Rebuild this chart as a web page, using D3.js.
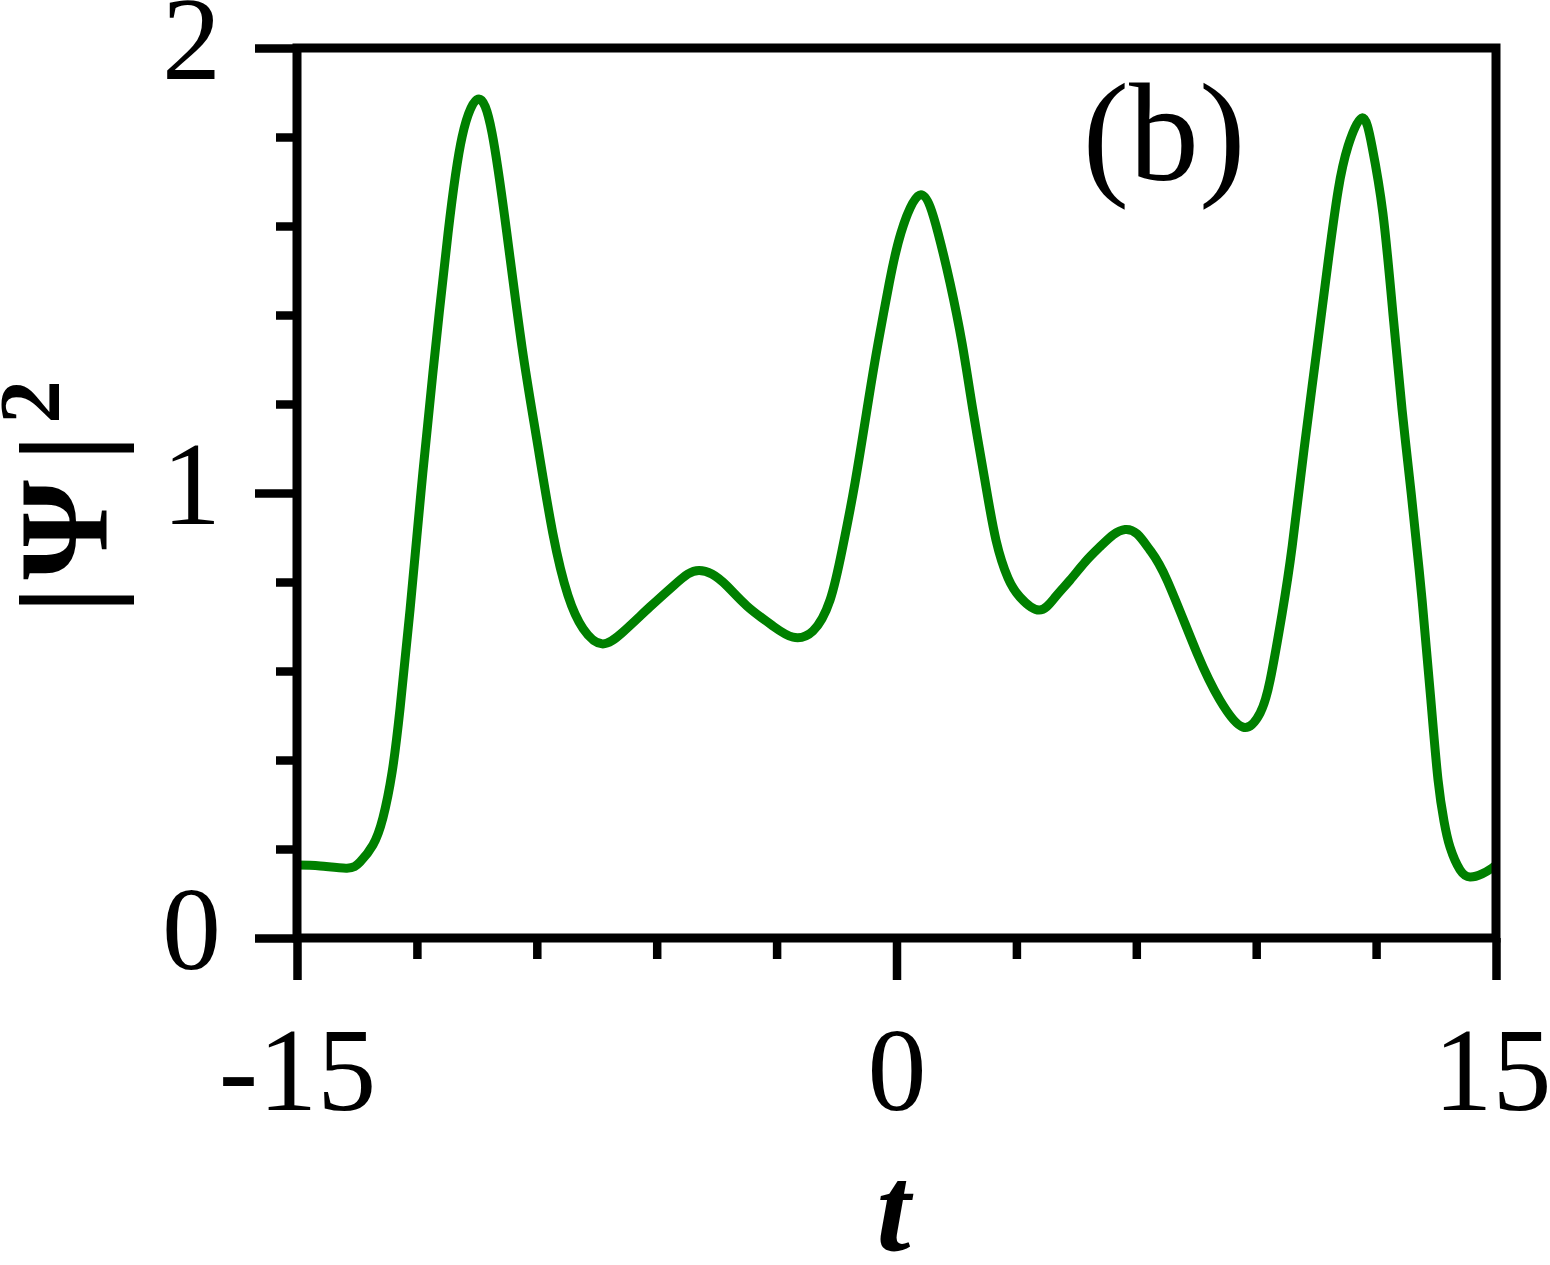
<!DOCTYPE html>
<html>
<head>
<meta charset="utf-8">
<script src="https://cdn.jsdelivr.net/npm/d3@7"></script>
<style>
  html, body { margin: 0; padding: 0; background: #fff; }
  svg { display: block; }
</style>
</head>
<body>
<div id="chart"></div>
<script>
// ---- data ----
const tValues = [
  -15.00, -14.42, -13.75, -13.42, -13.10, -12.85, -12.62, -12.42, -12.17, -11.90,
  -11.60, -11.22, -10.87, -10.47, -10.12, -9.75, -9.37, -9.00, -8.60, -8.22,
  -7.84, -7.37, -6.84, -6.17, -5.59, -5.22, -4.94, -4.62, -4.24, -3.74,
  -3.09, -2.59, -2.09, -1.66, -1.36, -1.04, -0.70, -0.46, -0.18, 0.11,
  0.61, 1.04, 1.34, 1.64, 1.91, 2.21, 2.49, 2.79, 3.09, 3.57,
  3.97, 4.34, 4.72, 5.09, 5.42, 5.72, 6.02, 6.34, 6.77, 7.52,
  8.09, 8.67, 9.10, 9.35, 9.65, 9.90, 10.20, 10.50, 10.80, 11.05,
  11.30, 11.65, 11.90, 12.17, 12.42, 12.65, 12.88, 13.15, 13.37, 13.55,
  13.70, 13.85, 14.10, 14.35, 14.65, 14.90, 15.00
];
const psiValues = [
  0.164, 0.162, 0.157, 0.171, 0.209, 0.270, 0.373, 0.517, 0.739, 1.000,
  1.270, 1.584, 1.800, 1.885, 1.809, 1.584, 1.328, 1.120, 0.910, 0.770,
  0.695, 0.661, 0.688, 0.744, 0.791, 0.818, 0.826, 0.818, 0.791, 0.746,
  0.701, 0.676, 0.690, 0.760, 0.872, 1.022, 1.209, 1.337, 1.472, 1.584,
  1.670, 1.584, 1.472, 1.337, 1.187, 1.029, 0.894, 0.809, 0.766, 0.737,
  0.766, 0.804, 0.845, 0.879, 0.906, 0.918, 0.908, 0.872, 0.804, 0.640,
  0.535, 0.474, 0.506, 0.580, 0.730, 0.880, 1.100, 1.310, 1.520, 1.680,
  1.780, 1.843, 1.778, 1.629, 1.404, 1.187, 0.998, 0.760, 0.535, 0.355,
  0.262, 0.204, 0.153, 0.137, 0.144, 0.157, 0.164
];
const xMajorTicks = [-15, 0, 15];
const xMinorTicks = [-12, -9, -6, -3, 3, 6, 9, 12];
const yMajorTicks = [0, 1, 2];
const yMinorTicks = [0.2, 0.4, 0.6, 0.8, 1.2, 1.4, 1.6, 1.8];
const xTickLabels = ["-15", "0", "15"];
const yTickLabels = ["0", "1", "2"];
const xLabel = "t";
const panelLabel = "(b)";

// ---- layout ----
const W = 1550, H = 1265;
const mLeft = 297, mRight = 1496, mTop = 48, mBottom = 938;
const serif = "'Liberation Serif', 'Times New Roman', serif";

const svg = d3.select("#chart").append("svg")
  .attr("width", W).attr("height", H);

const x = d3.scaleLinear().domain([-15, 15]).range([mLeft, mRight]);
const y = d3.scaleLinear().domain([0, 2]).range([mBottom, mTop]);

// curve
const pts = tValues.map((t, i) => [t, psiValues[i]]);
const line = d3.line().x(d => x(d[0])).y(d => y(d[1])).curve(d3.curveNatural);
svg.append("path").datum(pts)
  .attr("d", line)
  .attr("fill", "none")
  .attr("stroke", "#008000")
  .attr("stroke-width", 9)
  .attr("stroke-linejoin", "round");

// axes
function styleAxis(g) {
  g.select(".domain").remove();
  g.selectAll(".tick line").attr("stroke", "#000").attr("stroke-width", 8.5);
  g.selectAll("text").attr("font-family", serif).attr("font-size", 118).attr("fill", "#000");
}

svg.append("g").attr("transform", `translate(${mLeft},0)`)
  .call(d3.axisLeft(y).tickValues(yMinorTicks).tickSize(21).tickFormat(""))
  .call(styleAxis);
svg.append("g").attr("transform", `translate(${mLeft},0)`)
  .call(d3.axisLeft(y).tickValues(yMajorTicks).tickSize(42)
    .tickFormat((d, i) => yTickLabels[i]))
  .call(styleAxis)
  .call(g => g.selectAll("text").attr("dy", "0.26em").attr("x", -76));

svg.append("g").attr("transform", `translate(0,${mBottom})`)
  .call(d3.axisBottom(x).tickValues(xMinorTicks).tickSize(21).tickFormat(""))
  .call(styleAxis);
svg.append("g").attr("transform", `translate(0,${mBottom})`)
  .call(d3.axisBottom(x).tickValues(xMajorTicks).tickSize(42)
    .tickFormat((d, i) => xTickLabels[i]))
  .call(styleAxis)
  .call(g => g.selectAll("text").attr("y", 172).attr("dy", 0)
    .attr("dx", (d, i) => i === xMajorTicks.length - 1 ? -4 : 0));

// frame
svg.append("rect")
  .attr("x", mLeft).attr("y", mTop)
  .attr("width", mRight - mLeft).attr("height", mBottom - mTop)
  .attr("fill", "none").attr("stroke", "#000").attr("stroke-width", 9);

// x label
svg.append("text")
  .attr("x", (mLeft + mRight) / 2 - 3).attr("y", 1250)
  .attr("text-anchor", "middle")
  .attr("font-family", serif).attr("font-size", 122)
  .attr("font-weight", "bold").attr("font-style", "italic")
  .text(xLabel);

// y label |Ψ|^2 rotated
const yl = svg.append("text")
  .attr("transform", "translate(107,614) rotate(-90)")
  .attr("font-family", serif).attr("font-weight", "bold")
  .attr("font-size", 128).attr("fill", "#000");
yl.append("tspan").text("|");
yl.append("tspan").attr("dx", 6).text("Ψ");
yl.append("tspan").attr("dx", 18).text("|");
yl.append("tspan").attr("dx", 10).attr("dy", -48).attr("font-size", 87).text("2");

// panel label
svg.append("text")
  .attr("x", 1164).attr("y", 180)
  .attr("text-anchor", "middle")
  .attr("font-family", serif).attr("font-size", 140)
  .text(panelLabel);
</script>
</body>
</html>
